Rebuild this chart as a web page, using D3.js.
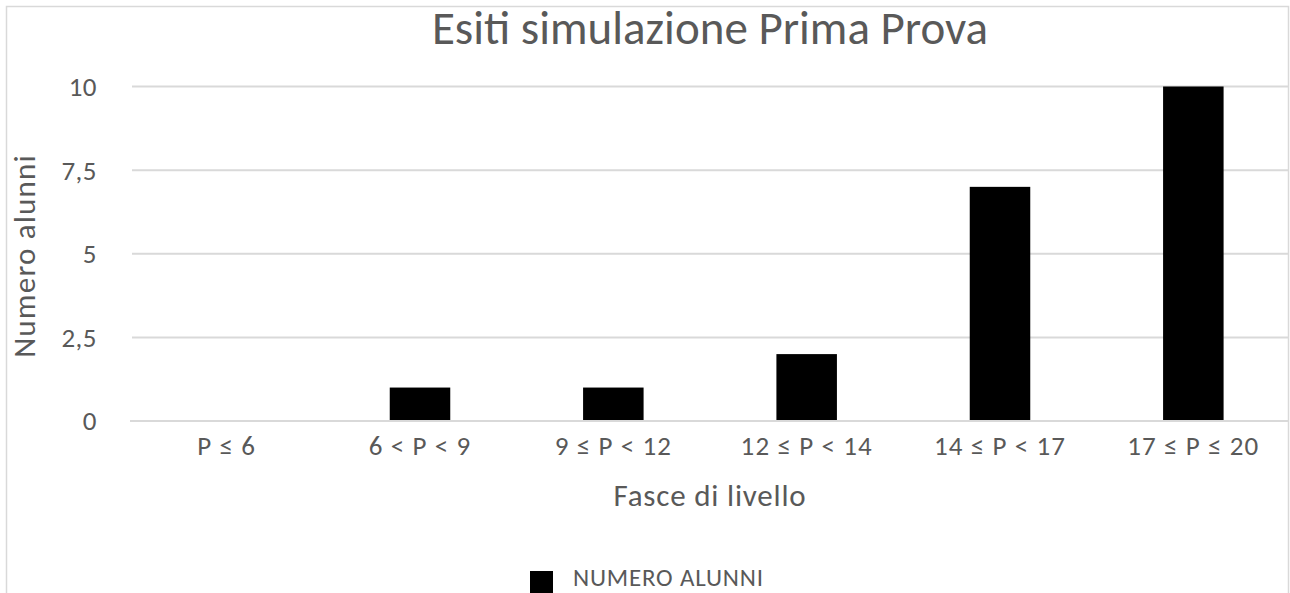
<!DOCTYPE html>
<html><head><meta charset="utf-8">
<script src="https://cdn.jsdelivr.net/npm/d3@7"></script>
<style>
html,body{margin:0;padding:0;background:#fff;overflow:hidden}
text{font-family:Carlito,Calibri,Lato,sans-serif;fill:#595959}
</style></head>
<body>
<svg id="c" width="1290" height="593"></svg>
<script>
const categories = ["P ≤ 6","6 < P < 9","9 ≤ P < 12","12 ≤ P < 14","14 ≤ P < 17","17 ≤ P ≤ 20"];
const values = [0,1,1,2,7,10];
const yTicks = [0,2.5,5,7.5,10];
const titleText = "Esiti simulazione Prima Prova";
const xTitle = "Fasce di livello";
const yTitle = "Numero alunni";
const seriesName = "NUMERO ALUNNI";

const svg = d3.select("#c");
svg.append("rect").attr("x",6.5).attr("y",6.5).attr("width",1282).attr("height",700)
  .attr("fill","#fff").attr("stroke","#d9d9d9").attr("stroke-width",1.5);

const x = d3.scaleBand().domain(categories).range([130,1290]).paddingInner(0.687).paddingOuter(0.3435);
const y = d3.scaleLinear().domain([0,10]).range([421,86.5]);

// gridlines
svg.append("g").selectAll("line").data(yTicks).join("line")
  .attr("x1",d=>d===0?130:132).attr("x2",1289)
  .attr("y1",d=>y(d)).attr("y2",d=>y(d))
  .attr("stroke","#d9d9d9").attr("stroke-width",2);

// y axis labels
const fmt = d=> String(d).replace(".",",");
svg.append("g").selectAll("text").data(yTicks).join("text")
  .attr("x",97).attr("y",d=>y(d)).attr("dy","0.35em")
  .attr("text-anchor","end").style("font-size","27px").style("letter-spacing","0.5px").text(fmt);

// bars
svg.append("g").selectAll("rect").data(values).join("rect")
  .attr("x",(d,i)=>x(categories[i])).attr("width",x.bandwidth())
  .attr("y",d=>y(d)).attr("height",d=>y(0)-y(d)-1)
  .attr("fill","#000");

// x labels
svg.append("g").selectAll("text").data(categories).join("text")
  .attr("x",d=>x(d)+x.bandwidth()/2).attr("y",455)
  .attr("text-anchor","middle").style("font-size","27px").style("letter-spacing","1.1px").text(d=>d);

// title
svg.append("text").attr("x",710).attr("y",44).attr("text-anchor","middle")
  .style("font-size","47px").text(titleText);

// x title
svg.append("text").attr("x",710).attr("y",506).attr("text-anchor","middle")
  .style("font-size","31px").style("letter-spacing","0.8px").text(xTitle);

// y title
svg.append("text").attr("transform","translate(35,256) rotate(-90)").attr("text-anchor","middle")
  .style("font-size","31px").style("letter-spacing","1.2px").text(yTitle);

// legend
svg.append("rect").attr("x",530).attr("y",571).attr("width",23).attr("height",23).attr("fill","#000");
svg.append("text").attr("x",573).attr("y",586).style("font-size","25px").style("letter-spacing","0.8px").text(seriesName);
</script>
</body></html>
